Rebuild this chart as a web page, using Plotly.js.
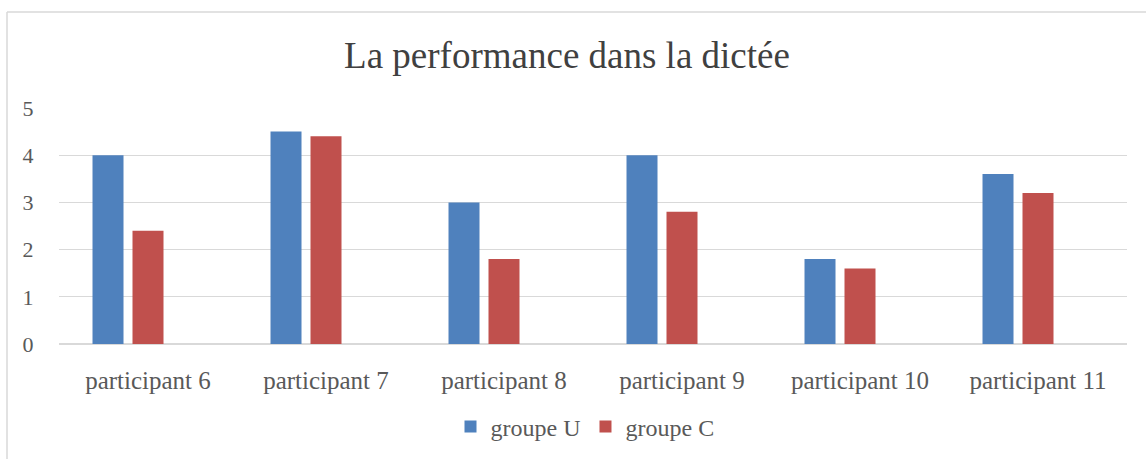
<!DOCTYPE html>
<html>
<head>
<meta charset="utf-8">
<script src="https://cdn.plot.ly/plotly-3.0.1.min.js"></script>
<style>
  html, body { margin: 0; padding: 0; background: #ffffff; }
  #chart { width: 1146px; height: 459px; }
</style>
</head>
<body>
<div id="chart"></div>
<script>
// ---- data ----
const categories = ["participant 6", "participant 7", "participant 8", "participant 9", "participant 10", "participant 11"];
const groupeU = [4, 4.5, 3, 4, 1.8, 3.6];
const groupeC = [2.4, 4.4, 1.8, 2.8, 1.6, 3.2];
const serie3 = [null, null, null, null, null, null]; // empty third series (reserves slot)
const yTicks = [0, 1, 2, 3, 4, 5];
const titleText = "La performance dans la dictée";

// ---- layout geometry ----
const W = 1146, H = 459;
const M = { l: 59, r: 19, t: 108, b: 115 };
const pw = W - M.l - M.r, ph = H - M.t - M.b;
const px = x => (x - M.l) / pw;           // pixel -> paper x
const py = y => (H - M.b - y) / ph;       // pixel -> paper y

const FONT = "Liberation Serif, Times New Roman, serif";
const GREY = "#595959";

const traces = [
  { type: "bar", name: "groupe U", x: categories, y: groupeU, marker: { color: "#4F81BD" } },
  { type: "bar", name: "groupe C", x: categories, y: groupeC, marker: { color: "#C0504D" } },
  { type: "bar", name: "", x: categories, y: serie3, marker: { color: "#9BBB59" }, showlegend: false }
];

const layout = {
  width: W, height: H,
  margin: { l: M.l, r: M.r, t: M.t, b: M.b, autoexpand: false },
  paper_bgcolor: "#ffffff", plot_bgcolor: "#ffffff",
  barmode: "group",
  bargap: 0.326,
  bargroupgap: 0.225,
  title: {
    text: titleText,
    font: { family: FONT, size: 37, color: "#404040" },
    x: 567 / W, xanchor: "center", xref: "container",
    y: 1 - 55 / H, yanchor: "middle", yref: "container"
  },
  xaxis: {
    type: "category",
    showgrid: false, zeroline: false, showline: false,
    ticks: "outside", ticklen: 14, tickcolor: "rgba(0,0,0,0)",
    tickfont: { family: FONT, size: 25, color: GREY },
    fixedrange: true
  },
  yaxis: {
    range: [0, 5],
    tickvals: yTicks, ticktext: yTicks.map(String),
    showgrid: true, gridcolor: "#d9d9d9", gridwidth: 1.4,
    zeroline: true, zerolinecolor: "#d9d9d9", zerolinewidth: 1.4,
    showline: false,
    ticks: "outside", ticklen: 20, tickcolor: "rgba(0,0,0,0)",
    tickfont: { family: FONT, size: 22, color: GREY },
    fixedrange: true
  },
  showlegend: true,
  legend: {
    orientation: "h",
    x: px(585), xanchor: "center",
    y: py(427), yanchor: "middle",
    font: { family: FONT, size: 24, color: GREY },
    itemwidth: 30,
    traceorder: "normal",
    bgcolor: "rgba(0,0,0,0)"
  },
  shapes: [
    { type: "line", xref: "paper", yref: "paper", x0: px(7), x1: px(W + 5), y0: py(12), y1: py(12),
      line: { color: "#d9d9d9", width: 1.5 } },
    { type: "line", xref: "paper", yref: "paper", x0: px(7), x1: px(7), y0: py(12), y1: py(H + 5),
      line: { color: "#d9d9d9", width: 1.5 } }
  ]
};

Plotly.newPlot("chart", traces, layout, { displayModeBar: false, staticPlot: true });
</script>
</body>
</html>
